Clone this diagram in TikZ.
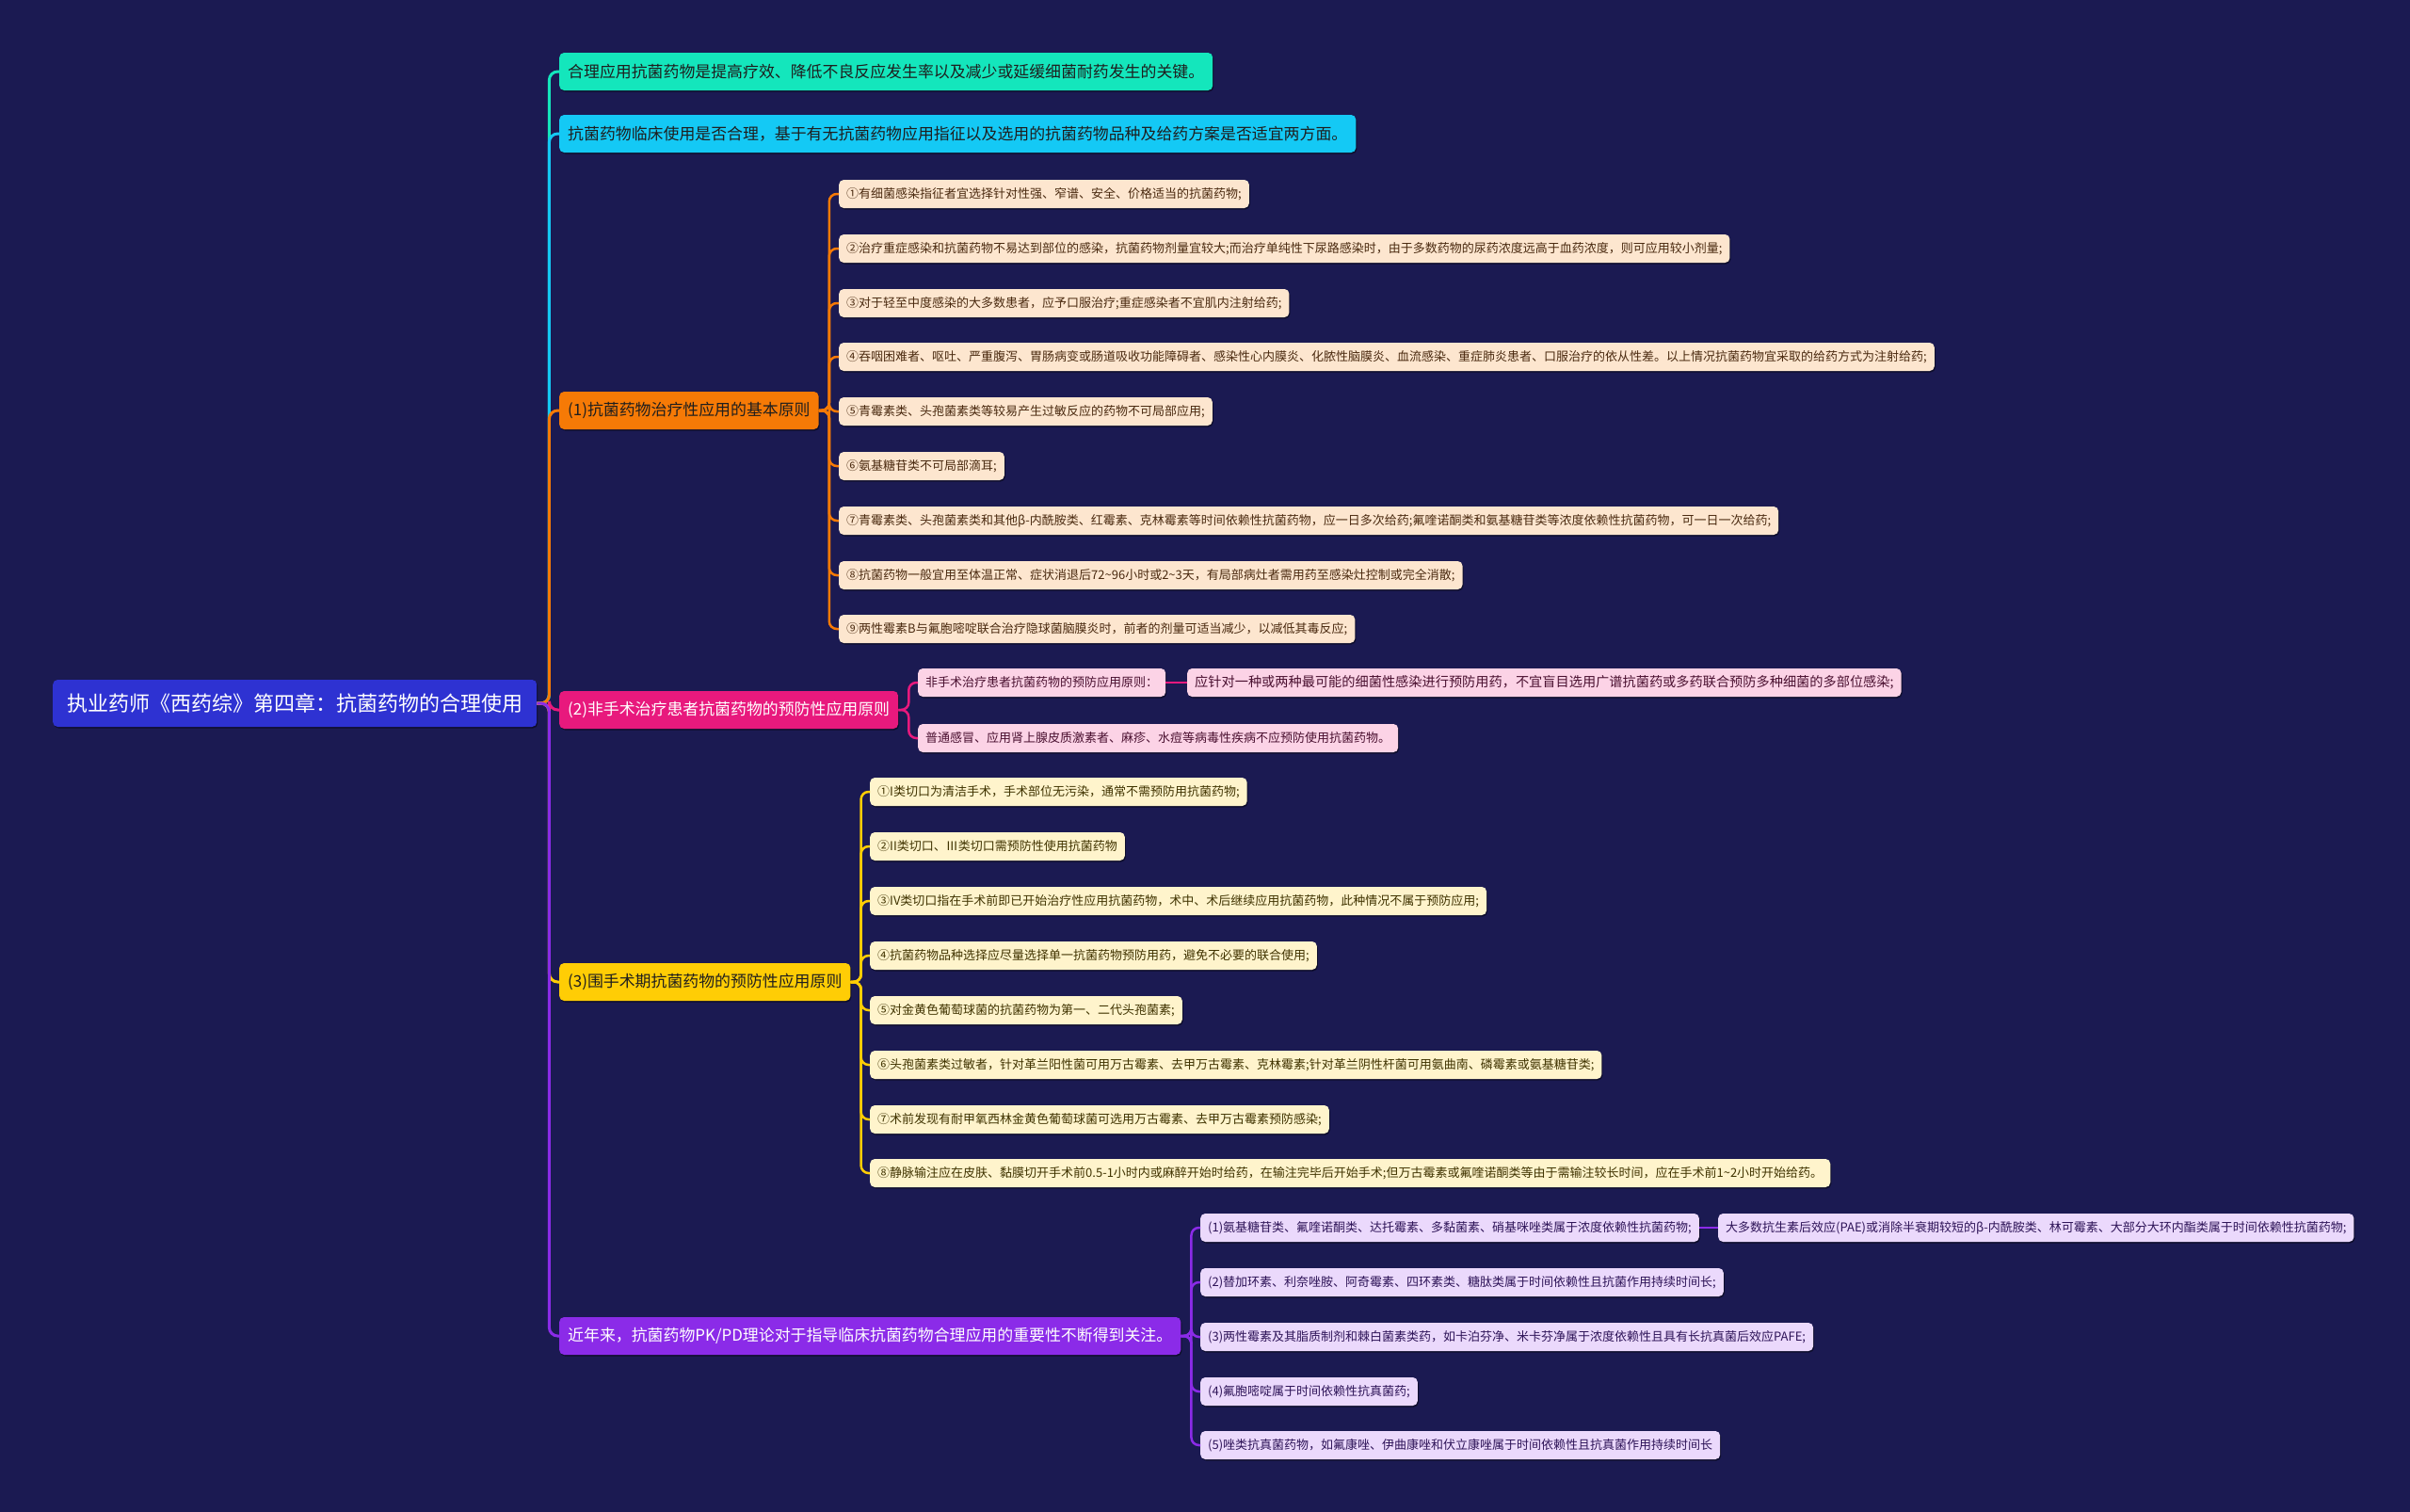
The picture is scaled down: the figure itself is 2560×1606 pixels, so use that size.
\documentclass[tikz,border=0pt]{standalone}
\usepackage{fontspec}
\setmainfont{Noto Sans CJK SC}
\usetikzlibrary{shadows}
\definecolor{bg}{HTML}{1B1A52}
\definecolor{rootc}{HTML}{2E32D2}
\definecolor{cA}{HTML}{14E6BC}
\definecolor{cB}{HTML}{14C9F5}
\definecolor{cC}{HTML}{F67A06}
\definecolor{cD}{HTML}{E8197D}
\definecolor{cE}{HTML}{FFCD05}
\definecolor{cF}{HTML}{8B2BE8}
\definecolor{fC}{HTML}{FDE6CF}
\definecolor{fD}{HTML}{FCD3E6}
\definecolor{fE}{HTML}{FFF4CC}
\definecolor{fF}{HTML}{EBD9FC}
\definecolor{tC}{HTML}{4A2A10}
\definecolor{tD}{HTML}{4A1030}
\definecolor{tE}{HTML}{3F3300}
\definecolor{tF}{HTML}{2E1458}
\definecolor{dark}{HTML}{1E1E1E}
\begin{document}
\begin{tikzpicture}[x=1pt,y=-1pt,
  shd/.style={drop shadow={shadow xshift=1pt,shadow yshift=-1.5pt,opacity=0.45,fill=black}},
  rootbox/.style={rounded corners=5pt,inner xsep=15pt,inner ysep=0pt,minimum height=50pt,anchor=west,fill=rootc,text=white,font=\fontsize{22}{26}\selectfont,shd},
  brbox/.style={rounded corners=5pt,inner xsep=9pt,inner ysep=0pt,minimum height=40pt,anchor=west,font=\fontsize{16.9}{20}\selectfont,shd},
  itbox/.style={rounded corners=5pt,inner xsep=8pt,inner ysep=0pt,minimum height=30pt,anchor=west,font=\fontsize{13}{16}\selectfont,shd},
  itC/.style={itbox,fill=fC,text=tC},
  itD/.style={itbox,fill=fD,text=tD},
  itE/.style={itbox,fill=fE,text=tE},
  itF/.style={itbox,fill=fF,text=tF},
  ln/.style={line width=3pt,rounded corners=9pt},
  lc/.style={line width=2.5pt,rounded corners=8pt}]
\fill[bg] (0,0) rectangle (2560,1606);
\useasboundingbox (0,0) rectangle (2560,1606);

% root
\node[rootbox] (root) at (56,747) {执业药师《西药综》第四章：抗菌药物的合理使用};

% level 1
\node[brbox,fill=cA,text=dark] (b0) at (594,76) {合理应用抗菌药物是提高疗效、降低不良反应发生率以及减少或延缓细菌耐药发生的关键。};
\node[brbox,fill=cB,text=dark] (b1) at (594,142) {抗菌药物临床使用是否合理，基于有无抗菌药物应用指征以及选用的抗菌药物品种及给药方案是否适宜两方面。};
\node[brbox,fill=cC,text=dark] (b2) at (594,436) {(1)抗菌药物治疗性应用的基本原则};
\node[brbox,fill=cD,text=white] (b3) at (594,754) {(2)非手术治疗患者抗菌药物的预防性应用原则};
\node[brbox,fill=cE,text=dark] (b4) at (594,1043) {(3)围手术期抗菌药物的预防性应用原则};
\node[brbox,fill=cF,text=white] (b5) at (594,1419) {近年来，抗菌药物PK/PD理论对于指导临床抗菌药物合理应用的重要性不断得到关注。};

\draw[ln,cA] (root.east) -- ++(13,0) |- (b0.west);
\draw[ln,cB] (root.east) -- ++(13,0) |- (b1.west);
\draw[ln,cC] (root.east) -- ++(13,0) |- (b2.west);
\draw[ln,cD] (root.east) -- ++(13,0) |- (b3.west);
\draw[ln,cE] (root.east) -- ++(13,0) |- (b4.west);
\draw[ln,cF] (root.east) -- ++(13,0) |- (b5.west);

% branch (1)
\node[itC] (c1) at (891,206) {①有细菌感染指征者宜选择针对性强、窄谱、安全、价格适当的抗菌药物;};
\node[itC] (c2) at (891,264) {②治疗重症感染和抗菌药物不易达到部位的感染，抗菌药物剂量宜较大;而治疗单纯性下尿路感染时，由于多数药物的尿药浓度远高于血药浓度，则可应用较小剂量;};
\node[itC] (c3) at (891,322) {③对于轻至中度感染的大多数患者，应予口服治疗;重症感染者不宜肌内注射给药;};
\node[itC] (c4) at (891,379) {④吞咽困难者、呕吐、严重腹泻、胃肠病变或肠道吸收功能障碍者、感染性心内膜炎、化脓性脑膜炎、血流感染、重症肺炎患者、口服治疗的依从性差。以上情况抗菌药物宜采取的给药方式为注射给药;};
\node[itC] (c5) at (891,437) {⑤青霉素类、头孢菌素类等较易产生过敏反应的药物不可局部应用;};
\node[itC] (c6) at (891,495) {⑥氨基糖苷类不可局部滴耳;};
\node[itC] (c7) at (891,553) {⑦青霉素类、头孢菌素类和其他β-内酰胺类、红霉素、克林霉素等时间依赖性抗菌药物，应一日多次给药;氟喹诺酮类和氨基糖苷类等浓度依赖性抗菌药物，可一日一次给药;};
\node[itC] (c8) at (891,611) {⑧抗菌药物一般宜用至体温正常、症状消退后72\textasciitilde 96小时或2\textasciitilde 3天，有局部病灶者需用药至感染灶控制或完全消散;};
\node[itC] (c9) at (891,668) {⑨两性霉素B与氟胞嘧啶联合治疗隐球菌脑膜炎时，前者的剂量可适当减少，以减低其毒反应;};
\foreach \i in {1,...,9} {\draw[lc,cC] (b2.east) -- ++(11,0) |- (c\i.west);}

% branch (2)
\node[itD] (d1) at (975,725) {非手术治疗患者抗菌药物的预防应用原则：};
\node[itD,font=\fontsize{14.2}{17}\selectfont] (d1a) at (1261,725) {应针对一种或两种最可能的细菌性感染进行预防用药，不宜盲目选用广谱抗菌药或多药联合预防多种细菌的多部位感染;};
\node[itD] (d2) at (975,784) {普通感冒、应用肾上腺皮质激素者、麻疹、水痘等病毒性疾病不应预防使用抗菌药物。};
\draw[lc,cD] (b3.east) -- ++(11,0) |- (d1.west);
\draw[lc,cD] (b3.east) -- ++(11,0) |- (d2.west);
\draw[lc,cD] (d1.east) -- (d1a.west);

% branch (3)
\node[itE] (e1) at (924,841) {①I类切口为清洁手术，手术部位无污染，通常不需预防用抗菌药物;};
\node[itE] (e2) at (924,899) {②II类切口、Ⅲ类切口需预防性使用抗菌药物};
\node[itE] (e3) at (924,957) {③IV类切口指在手术前即已开始治疗性应用抗菌药物，术中、术后继续应用抗菌药物，此种情况不属于预防应用;};
\node[itE] (e4) at (924,1015) {④抗菌药物品种选择应尽量选择单一抗菌药物预防用药，避免不必要的联合使用;};
\node[itE] (e5) at (924,1073) {⑤对金黄色葡萄球菌的抗菌药物为第一、二代头孢菌素;};
\node[itE] (e6) at (924,1131) {⑥头孢菌素类过敏者，针对革兰阳性菌可用万古霉素、去甲万古霉素、克林霉素;针对革兰阴性杆菌可用氨曲南、磷霉素或氨基糖苷类;};
\node[itE] (e7) at (924,1189) {⑦术前发现有耐甲氧西林金黄色葡萄球菌可选用万古霉素、去甲万古霉素预防感染;};
\node[itE] (e8) at (924,1246) {⑧静脉输注应在皮肤、黏膜切开手术前0.5-1小时内或麻醉开始时给药，在输注完毕后开始手术;但万古霉素或氟喹诺酮类等由于需输注较长时间，应在手术前1\textasciitilde 2小时开始给药。};
\foreach \i in {1,...,8} {\draw[lc,cE] (b4.east) -- ++(11,0) |- (e\i.west);}

% branch (4)
\node[itF] (f1) at (1275,1304) {(1)氨基糖苷类、氟喹诺酮类、达托霉素、多黏菌素、硝基咪唑类属于浓度依赖性抗菌药物;};
\node[itF] (f1a) at (1825,1304) {大多数抗生素后效应(PAE)或消除半衰期较短的β-内酰胺类、林可霉素、大部分大环内酯类属于时间依赖性抗菌药物;};
\node[itF] (f2) at (1275,1362) {(2)替加环素、利奈唑胺、阿奇霉素、四环素类、糖肽类属于时间依赖性且抗菌作用持续时间长;};
\node[itF] (f3) at (1275,1420) {(3)两性霉素及其脂质制剂和棘白菌素类药，如卡泊芬净、米卡芬净属于浓度依赖性且具有长抗真菌后效应PAFE;};
\node[itF] (f4) at (1275,1478) {(4)氟胞嘧啶属于时间依赖性抗真菌药;};
\node[itF] (f5) at (1275,1535) {(5)唑类抗真菌药物，如氟康唑、伊曲康唑和伏立康唑属于时间依赖性且抗真菌作用持续时间长};
\foreach \i in {1,...,5} {\draw[lc,cF] (b5.east) -- ++(11,0) |- (f\i.west);}
\draw[lc,cF] (f1.east) -- (f1a.west);
\end{tikzpicture}
\end{document}
